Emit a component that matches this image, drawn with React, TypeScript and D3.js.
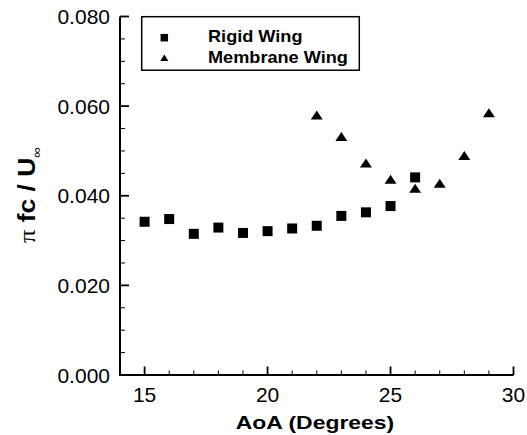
import React from 'react';
import * as d3 from 'd3';

// Angle of attack (degrees) and non-dimensional shedding frequency
const aoaRigid = [15, 16, 17, 18, 19, 20, 21, 22, 23, 24, 25, 26];
const rigidValues = [0.0342, 0.0348, 0.0315, 0.0329, 0.0317, 0.0321, 0.0327, 0.0333, 0.0355, 0.0363, 0.0377, 0.0441];
const aoaMembrane = [22, 23, 24, 25, 26, 27, 28, 29];
const membraneValues = [0.058, 0.0532, 0.0473, 0.0437, 0.0417, 0.0428, 0.049, 0.0585];
const seriesNames = ['Rigid Wing', 'Membrane Wing'];
const xTicks = [15, 20, 25, 30];
const yTicks = [0, 0.02, 0.04, 0.06, 0.08];

const W = 527;
const H = 435;
const FONT = '"Liberation Sans", Arial, Helvetica, sans-serif';

const x = d3.scaleLinear().domain([14, 30]).range([120, 513.5]);
const y = d3.scaleLinear().domain([0, 0.08]).range([375, 16.5]);

const xMinor = d3.range(14, 31, 1);
const yMinor = d3.range(0, 0.0801, 0.005);

const squarePath = (s: number) => `M${-s / 2},${-s / 2}h${s}v${s}h${-s}Z`;
const trianglePath = (w: number, h: number) => `M0,${-h / 2}L${w / 2},${h / 2}L${-w / 2},${h / 2}Z`;

export default function App() {
  const [x0, x1] = x.range();
  const [y0, y1] = y.range();
  return (
    <svg width={W} height={H} style={{ position: 'absolute', left: 0, top: 0, background: '#fff' }}>
      <rect x={0} y={0} width={W} height={H} fill="#fff" />
      {/* axes */}
      <line x1={x0} x2={x0} y1={y0 + 1} y2={y1} stroke="#000" strokeWidth={2} />
      <line x1={x0 - 1} x2={x1} y1={y0} y2={y0} stroke="#000" strokeWidth={2} />
      {xMinor.map((v) => {
        const major = xTicks.includes(v);
        return (
          <line key={'xt' + v} x1={x(v)} x2={x(v)} y1={y0} y2={y0 - (major ? 8.5 : 4.5)} stroke="#000" strokeWidth={major ? 1.8 : 1} />
        );
      })}
      {yMinor.map((v, i) => {
        const major = i % 4 === 0;
        return (
          <line key={'yt' + i} x1={x0} x2={x0 + (major ? 9 : 5)} y1={y(v)} y2={y(v)} stroke="#000" strokeWidth={major ? 1.8 : 1} />
        );
      })}
      {xTicks.map((v) => (
        <text key={'xl' + v} x={x(v)} y={402} textAnchor="middle" fontFamily={FONT} fontSize={21} fill="#000">
          {v}
        </text>
      ))}
      {yTicks.map((v) => (
        <text key={'yl' + v} x={110} y={y(v) + 7.5} textAnchor="end" fontFamily={FONT} fontSize={21} fill="#000">
          {d3.format('.3f')(v)}
        </text>
      ))}
      {/* axis titles */}
      <g transform="translate(315,429) scale(1.24,1)">
        <text x={0} y={0} textAnchor="middle" fontFamily={FONT} fontSize={18.5} fontWeight="bold" fill="#000">
          AoA (Degrees)
        </text>
      </g>
      <g transform="translate(35,195) rotate(-90) scale(1.15,1)">
        <text x={0} y={0} textAnchor="middle" fontFamily={FONT} fontSize={23} fill="#000">
          <tspan fontFamily='"Liberation Serif", "DejaVu Serif", serif' fontSize={23}>π</tspan>
          <tspan fontWeight="bold"> fc / U</tspan>
          <tspan fontSize={13} dy={6}>∞</tspan>
        </text>
      </g>
      {/* data */}
      {aoaRigid.map((a, i) => (
        <path key={'r' + a} d={squarePath(10)} transform={`translate(${x(a)},${y(rigidValues[i])})`} fill="#000" />
      ))}
      {aoaMembrane.map((a, i) => (
        <path key={'m' + a} d={trianglePath(12, 9)} transform={`translate(${x(a)},${y(membraneValues[i])})`} fill="#000" />
      ))}
      {/* legend */}
      <rect x={141.7} y={16.7} width={217.6} height={53.5} fill="#fff" stroke="#000" strokeWidth={1.5} />
      <path d={squarePath(7.5)} transform="translate(164.3,37.7)" fill="#000" />
      <path d={trianglePath(8, 6.5)} transform="translate(164.3,57.7)" fill="#000" />
      {seriesNames.map((n, i) => (
        <g key={n} transform={`translate(208,${41.8 + i * 21.6}) scale(1.1,1)`}>
          <text x={0} y={0} fontFamily={FONT} fontSize={16.5} fontWeight="bold" fill="#000">
            {n}
          </text>
        </g>
      ))}
    </svg>
  );
}
